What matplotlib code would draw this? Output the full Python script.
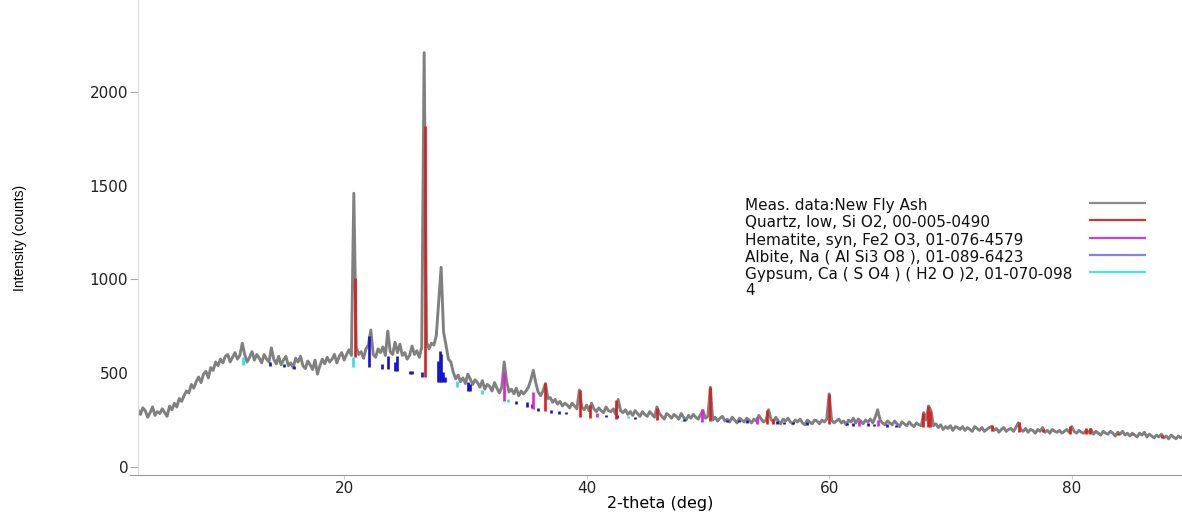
import numpy as np
import matplotlib
matplotlib.use("Agg")
import matplotlib.pyplot as plt

# Measured scan: 2-theta from 3.0 deg in 0.2 deg steps (10 points per row = 2 deg)
THETA_START = 3.0
THETA_STEP = 0.2
counts = [
    305, 280, 315, 300, 265, 290, 320, 275, 295, 285,
    310, 290, 270, 325, 305, 340, 320, 365, 350, 380,
    405, 395, 440, 420, 455, 480, 450, 495, 510, 475,
    530, 515, 560, 540, 575, 555, 590, 600, 560, 585,
    610, 575, 595, 660, 600, 560, 585, 615, 570, 600,
    580, 555, 600, 575, 560, 635, 575, 550, 590, 545,
    570, 590, 540, 555, 530, 580, 560, 590, 540, 525,
    565, 545, 520, 570, 495, 540, 575, 550, 585, 560,
    575, 600, 555, 590, 610, 570, 600, 625, 595, 1460,
    640, 600, 615, 580, 630, 650, 730, 600, 585, 630,
    610, 640, 595, 725, 615, 600, 665, 610, 655, 595,
    610, 575, 595, 645, 600, 620, 585, 640, 2210, 665,
    630, 660, 650, 700, 880, 1065, 720, 650, 575, 560,
    505, 470, 490, 455, 475, 445, 495, 470, 440, 465,
    450, 425, 460, 415, 440, 430, 405, 450, 420, 395,
    425, 560, 455, 400, 415, 390, 420, 380, 405, 390,
    405, 425, 465, 515, 450, 400, 380, 405, 445, 365,
    370, 345, 360, 335, 350, 325, 340, 330, 315, 340,
    325, 310, 410, 320, 305, 330, 300, 340, 310, 295,
    315, 300, 290, 320, 300, 295, 310, 280, 360, 300,
    290, 305, 280, 295, 275, 300, 285, 270, 295, 280,
    270, 295, 280, 265, 320, 285, 270, 255, 285, 275,
    260, 280, 270, 255, 285, 265, 250, 275, 260, 280,
    265, 255, 280, 300, 260, 270, 425, 250, 265, 245,
    260, 270, 245, 255, 240, 265, 250, 235, 260, 250,
    240, 260, 250, 235, 255, 245, 275, 255, 240, 250,
    305, 255, 240, 265, 245, 230, 255, 245, 260, 240,
    230, 250, 240, 255, 235, 225, 250, 240, 230, 250,
    245, 230, 250, 240, 255, 390, 250, 235, 245, 255,
    235, 245, 225, 250, 240, 260, 235, 255, 245, 230,
    250, 240, 255, 235, 265, 305, 250, 235, 225, 245,
    235, 225, 245, 230, 215, 240, 230, 220, 240, 225,
    215, 235, 225, 220, 290, 250, 325, 300, 220, 230,
    210, 225, 200, 215, 205, 220, 195, 215, 210, 200,
    215, 195, 210, 200, 190, 215, 205, 195, 210, 190,
    200, 210, 215, 195, 205, 185, 200, 210, 190, 200,
    205, 190, 210, 235, 200, 190, 205, 185, 200, 195,
    180, 200, 190, 210, 185, 195, 180, 200, 190, 185,
    195, 180, 190, 200, 185, 215, 190, 180, 195, 185,
    180, 195, 185, 200, 175, 190, 180, 170, 190, 180,
    175, 190, 180, 165, 185, 175, 190, 170, 180, 165,
    180, 170, 160, 180, 170, 185, 160, 175, 165, 155,
    170, 160, 175, 155, 165, 150, 170, 160, 150, 165,
    155, 165, 150, 160, 145, 160, 150, 155, 145, 160,
]

# Reference phase sticks: position, bottom and top of each stick (counts)
quartz_pos = [20.86, 26.64, 36.54, 39.47, 40.30, 42.45, 45.79, 50.14, 54.87, 55.33,
              59.96, 67.74, 68.14, 68.32, 73.47, 75.66, 77.67, 79.88, 81.17, 81.49,
              83.84, 84.95, 87.44]
quartz_base = [587, 480, 299, 265, 260, 256, 250, 245, 229, 229,
               229, 213, 213, 213, 192, 187, 185, 176, 175, 175,
               170, 168, 155]
quartz_top = [1007, 1820, 448, 411, 330, 357, 313, 427, 304, 256,
              389, 288, 325, 299, 224, 240, 203, 219, 208, 208,
              181, 178, 172]

hematite_pos = [33.15, 35.61, 40.85, 49.48, 54.09, 62.45, 64.0]
hematite_base = [352, 309, 267, 240, 229, 219, 219]
hematite_top = [507, 400, 288, 309, 267, 245, 250]

albite_pos = [13.87, 15.0, 15.9, 22.04, 23.1, 23.6, 24.2, 24.35, 25.4, 25.6,
              26.45, 27.75, 27.88, 28.0, 28.15, 28.3, 30.2, 30.4, 34.2, 35.1,
              35.5, 36.0, 37.1, 37.7, 38.3, 41.6, 42.5, 44.0, 48.0, 51.6,
              52.6, 53.2, 55.7, 56.3, 57.0, 58.2, 61.5, 62.0, 63.2, 63.7,
              64.8, 65.5]
albite_base = [540, 535, 525, 533, 522, 522, 512, 512, 495, 495,
               480, 453, 453, 453, 453, 453, 405, 405, 336, 320,
               315, 300, 290, 285, 280, 265, 262, 255, 245, 240,
               238, 235, 230, 228, 227, 225, 222, 220, 218, 216,
               214, 212]
albite_top = [560, 550, 540, 699, 550, 592, 560, 592, 510, 510,
              505, 565, 620, 600, 505, 480, 453, 440, 350, 345,
              335, 312, 305, 300, 292, 278, 275, 268, 257, 252,
              250, 248, 243, 241, 240, 238, 235, 233, 232, 230,
              228, 226]

gypsum_pos = [11.7, 20.75, 29.3, 31.4, 33.55, 43.4, 47.9]
gypsum_base = [544, 533, 427, 389, 346, 262, 245]
gypsum_top = [586, 587, 459, 411, 362, 272, 253]

legend_labels = [
    "Meas. data:New Fly Ash",
    "Quartz, low, Si O2, 00-005-0490",
    "Hematite, syn, Fe2 O3, 01-076-4579",
    "Albite, Na ( Al Si3 O8 ), 01-089-6423",
    "Gypsum, Ca ( S O4 ) ( H2 O )2, 01-070-098\n4",
]
legend_colors = ["#8c8c8c", "#d03434", "#d040d0", "#8585e0", "#40e6e6"]

FIG_W, FIG_H = 1182, 516
AX_LEFT, AX_BOTTOM_PX = 138, 475

fig = plt.figure(figsize=(FIG_W / 100, FIG_H / 100), dpi=100)
ax = fig.add_axes([AX_LEFT / FIG_W, 1 - AX_BOTTOM_PX / FIG_H, 1 - AX_LEFT / FIG_W, AX_BOTTOM_PX / FIG_H])

two_theta = THETA_START + THETA_STEP * np.arange(len(counts))
ax.plot(two_theta, counts, color="#808080", lw=2.1, zorder=2)

ax.vlines(gypsum_pos, gypsum_base, gypsum_top, colors="#30e0e0", lw=1.9, zorder=3)
ax.vlines(albite_pos, albite_base, albite_top, colors="#1212d0", lw=1.9, zorder=3)
ax.vlines(hematite_pos, hematite_base, hematite_top, colors="#e020e0", lw=1.9, zorder=3)
ax.vlines(quartz_pos, quartz_base, quartz_top, colors="#e01c1c", lw=1.9, zorder=4)

ax.set_xlim(3.0, 89.1)
ax.set_ylim(-43, 2491)

ax.set_xticks([20, 40, 60, 80])
ax.set_yticks([0, 1000, 2000])
ax.set_yticks([500, 1500], minor=True)
ax.set_yticklabels(["500", "1500"], minor=True)
ax.tick_params(axis="x", length=3, color="#d0d0d0", labelsize=11, pad=1)
ax.tick_params(axis="y", which="major", length=6, color="#aaaaaa", labelsize=11, pad=1)
ax.tick_params(axis="y", which="minor", length=0, labelsize=11, pad=7)
for lbl in ax.get_xticklabels() + ax.get_yticklabels(which="both"):
    lbl.set_color("#222222")

ax.spines["top"].set_visible(False)
ax.spines["right"].set_visible(False)
ax.spines["left"].set_color("#dcdcdc")
ax.spines["bottom"].set_color("#999999")
ax.plot([-0.008, 0], [0, 0], transform=ax.transAxes, color="#999999", lw=0.8, clip_on=False)

ax.set_xlabel("2-theta (deg)", fontsize=11.5, labelpad=0)
ax.text(-0.113, 0.5, "Intensity (counts)", transform=ax.transAxes, rotation=90,
        ha="center", va="center", fontsize=10, family="Liberation Sans")

# hand-built legend: text on the left, line sample on the right
row_px = [205, 222, 240, 257, 274]
for label, color, ypx in zip(legend_labels, legend_colors, row_px):
    yf = 1 - ypx / AX_BOTTOM_PX
    ax.text((745 - AX_LEFT) / 1044, yf + 7 / AX_BOTTOM_PX, label, transform=ax.transAxes,
            ha="left", va="top", fontsize=11, linespacing=1.05, color="#111111")
    ax.plot([(1090 - AX_LEFT) / 1044, (1145 - AX_LEFT) / 1044], [yf + 2 / AX_BOTTOM_PX] * 2,
            transform=ax.transAxes, color=color, lw=1.6)

fig.savefig("out.png", dpi=100)
